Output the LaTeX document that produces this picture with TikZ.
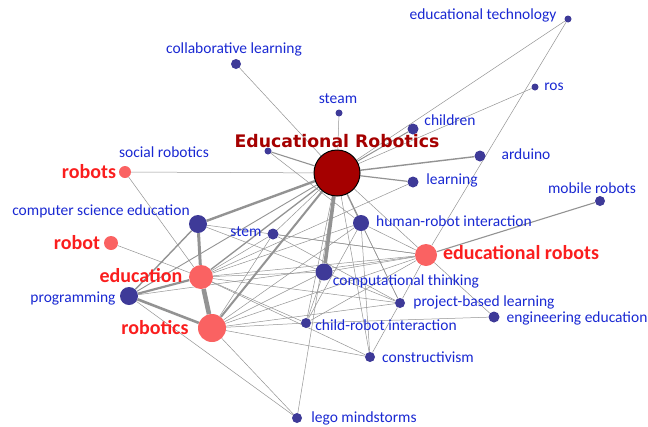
\documentclass[tikz,border=0pt]{standalone}
\usepackage{xcolor}
\usepackage{fontspec}
\setmainfont{Carlito}
\newfontfamily\titlefont{DejaVu Sans}
\usepackage{tikz}
\usetikzlibrary{backgrounds}

\definecolor{kwblue}{RGB}{62,58,152}
\definecolor{txtblue}{RGB}{25,40,210}
\definecolor{hotred}{RGB}{250,98,98}
\definecolor{txtred}{RGB}{250,30,30}
\definecolor{darkred}{RGB}{165,0,0}

\begin{document}
\begin{tikzpicture}[x=1pt, y=-1pt,
    kw/.style={circle, fill=kwblue, inner sep=0pt, minimum size=#1},
    hot/.style={circle, fill=hotred, inner sep=0pt, minimum size=#1},
    lbl/.style={text=txtblue, font=\fontsize{15.5}{15.5}\selectfont, inner sep=0pt},
    hotlbl/.style={text=txtred, font=\fontsize{20}{20}\selectfont\bfseries, inner sep=0pt},
    link/.style={draw=gray!85, line width=#1},
    link/.default=0.5pt]
   % Frame for the page (always first!)
   \useasboundingbox (0,0) rectangle (648,426);

    % Main term
    \node[circle, fill=darkred, draw=black, line width=1pt, minimum size=46pt, inner sep=0pt] (er) at (337,173) {};
    \node[text=darkred, font=\titlefont\fontsize{17.3}{17.3}\selectfont\bfseries, inner sep=0pt] (er-l) at (337,141) {Educational Robotics};

    % Keywords
    \node[kw=10pt] (coll) at (236,64) {};
    \node[kw=7pt] (steam) at (339,113) {};
    \node[kw=7pt] (edtech) at (568,19) {};
    \node[kw=7pt] (ros) at (535,87) {};
    \node[kw=11pt] (children) at (413,129) {};
    \node[kw=11pt] (arduino) at (480,156) {};
    \node[kw=11pt] (learning) at (413,182) {};
    \node[kw=10pt] (mobile) at (600,201) {};
    \node[kw=7pt] (socrob) at (268,151) {};
    \node[kw=18pt] (cse) at (198,224) {};
    \node[kw=11pt] (stem) at (273,234) {};
    \node[kw=16pt] (hri) at (361,223) {};
    \node[kw=17pt] (ct) at (324,272) {};
    \node[kw=18pt] (prog) at (129,296) {};
    \node[kw=10pt] (pbl) at (400,303) {};
    \node[kw=11pt] (eng) at (494,317) {};
    \node[kw=10pt] (cri) at (306,323) {};
    \node[kw=10pt] (constr) at (370,357) {};
    \node[kw=10pt] (lego) at (297,418) {};

    \node[hot=12pt] (robots) at (125,172) {};
    \node[hot=14pt] (robot) at (111,243) {};
    \node[hot=22pt] (edrobots) at (426,255) {};
    \node[hot=24pt] (education) at (201,277) {};
    \node[hot=28pt] (robotics) at (212,328) {};

    % Labels
    \node[lbl] (coll-l) at (234,49) {collaborative learning};
    \node[lbl] (steam-l) at (338,99) {steam};
    \node[lbl] (edtech-l) at (483,15) {educational technology};
    \node[lbl] (ros-l) at (554,87) {ros};
    \node[lbl] (children-l) at (450,120) {children};
    \node[lbl] (arduino-l) at (526,154) {arduino};
    \node[lbl] (learning-l) at (452,180) {learning};
    \node[lbl] (mobile-l) at (592,188) {mobile robots};
    \node[lbl] (socrob-l) at (164,152) {social robotics};
    \node[lbl] (cse-l) at (101,211) {computer science education};
    \node[lbl] (stem-l) at (246,232) {stem};
    \node[lbl] (hri-l) at (454,221) {human-robot interaction};
    \node[lbl] (ct-l) at (406,281) {computational thinking};
    \node[lbl] (prog-l) at (73,298) {programming};
    \node[lbl] (pbl-l) at (484,302) {project-based learning};
    \node[lbl] (eng-l) at (577,318) {engineering education};
    \node[lbl] (cri-l) at (386,325) {child-robot interaction};
    \node[lbl] (constr-l) at (428,357) {constructivism};
    \node[lbl] (lego-l) at (364,418) {lego mindstorms};

    \node[hotlbl] (robots-l) at (89,172) {robots};
    \node[hotlbl] (robot-l) at (77,243) {robot};
    \node[hotlbl] (edrobots-l) at (521,253) {educational robots};
    \node[hotlbl] (education-l) at (141,276) {education};
    \node[hotlbl] (robotics-l) at (155,328) {robotics};

    % Links
    \begin{pgfonlayer}{background}
    \foreach \a/\b in {er/coll, er/steam, er/edtech, er/ros, er/robots, er/stem,
        er/edrobots, er/cri, er/constr, er/pbl, er/lego, socrob/hri,
        edtech/edrobots, robots/education, robot/education, cse/ct, cse/edrobots,
        prog/lego, prog/edrobots, robotics/lego, learning/education,
        education/edrobots, education/ct, education/hri, education/pbl,
        education/cri, education/constr, education/stem,
        robotics/edrobots, robotics/ct, robotics/hri, robotics/cri,
        robotics/pbl, robotics/stem, robotics/constr,
        hri/edrobots, hri/pbl, hri/constr, hri/cri,
        edrobots/ct, edrobots/pbl, edrobots/eng, edrobots/cri, edrobots/stem,
        ct/cri, ct/pbl, stem/pbl, pbl/constr, cri/eng}
      \draw[link] (\a) -- (\b);
    \foreach \a/\b/\w in {er/children/1pt, er/arduino/1.4pt, er/learning/1.2pt,
        er/socrob/1.1pt, er/hri/1.4pt, er/prog/0.9pt, er/education/1.3pt,
        cse/prog/1.4pt, edrobots/mobile/1.1pt, er/cse/2.4pt, er/robotics/2pt,
        prog/education/2.2pt, prog/robotics/2.6pt, cse/education/3pt,
        er/ct/3.6pt, education/robotics/4.6pt}
      \draw[link=\w] (\a) -- (\b);
    \end{pgfonlayer}
\end{tikzpicture}
\end{document}
